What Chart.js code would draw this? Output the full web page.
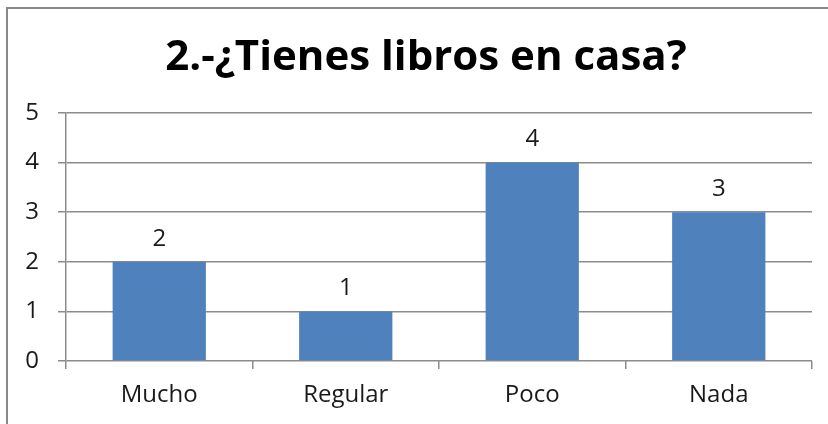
<!DOCTYPE html>
<html>
<head>
<meta charset="utf-8">
<script src="https://cdn.jsdelivr.net/npm/chart.js@4"></script>
<style>
  html, body { margin: 0; padding: 0; background: #fff; }
  #wrap { position: relative; width: 828px; height: 424px; overflow: hidden; }
  #frame { position: absolute; left: 6px; top: 7px; width: 900px; height: 500px;
           border-top: 2px solid #8a8a8a; border-left: 2px solid #8a8a8a; }
  canvas { position: absolute; left: 0; top: 0; }
</style>
</head>
<body>
<div id="wrap">
  <div id="frame"></div>
  <canvas id="chart" width="828" height="424"></canvas>
</div>
<script>
const categories = ['Mucho', 'Regular', 'Poco', 'Nada'];
const answers = [2, 1, 4, 3];
const yTicks = [0, 1, 2, 3, 4, 5];
const chartTitle = '2.-¿Tienes libros en casa?';

const barColor = '#4f81bd';
const gridColor = '#8c8c8c';
const textColor = '#1a1a1a';
const fontFamily = '"Open Sans", "DejaVu Sans", sans-serif';

// title centred on the whole frame, not on the padded box
const frameTitle = {
  id: 'frameTitle',
  afterDraw(chart) {
    const ctx = chart.ctx;
    ctx.save();
    ctx.fillStyle = '#000';
    ctx.font = 'bold 42px ' + fontFamily;
    ctx.textAlign = 'center';
    ctx.textBaseline = 'middle';
    ctx.fillText(chartTitle, 426, 58);
    ctx.restore();
  }
};

// draws the value above each bar
const valueLabels = {
  id: 'valueLabels',
  afterDatasetsDraw(chart) {
    const ctx = chart.ctx;
    const meta = chart.getDatasetMeta(0);
    ctx.save();
    ctx.fillStyle = textColor;
    ctx.font = '24px ' + fontFamily;
    ctx.textAlign = 'center';
    ctx.textBaseline = 'bottom';
    meta.data.forEach((bar, i) => {
      ctx.fillText(String(answers[i]), bar.x, bar.y - 11);
    });
    ctx.restore();
  }
};

new Chart(document.getElementById('chart'), {
  type: 'bar',
  data: {
    labels: categories,
    datasets: [{
      data: answers,
      backgroundColor: barColor,
      categoryPercentage: 1,
      barPercentage: 0.5
    }]
  },
  options: {
    responsive: false,
    animation: false,
    layout: { padding: { left: 0, right: 16, top: 113, bottom: 0 } },
    plugins: {
      legend: { display: false },
      tooltip: { enabled: false },
      title: { display: false }
    },
    scales: {
      x: {
        grid: { offset: true, drawOnChartArea: false, color: gridColor, lineWidth: 1.5, tickLength: 8 },
        border: { display: false },
        ticks: { color: textColor, font: { family: fontFamily, size: 24 }, padding: 12 },
        afterFit: scale => { scale.height = 63; }
      },
      y: {
        min: 0,
        max: 5,
        afterBuildTicks: scale => { scale.ticks = yTicks.map(v => ({ value: v })); },
        grid: { color: gridColor, lineWidth: 1.5, tickLength: 8 },
        border: { display: true, color: gridColor, width: 1.5 },
        ticks: { color: textColor, font: { family: fontFamily, size: 24 }, padding: 19 },
        afterFit: scale => { scale.width = 66; }
      }
    }
  },
  plugins: [valueLabels, frameTitle]
});
</script>
</body>
</html>
